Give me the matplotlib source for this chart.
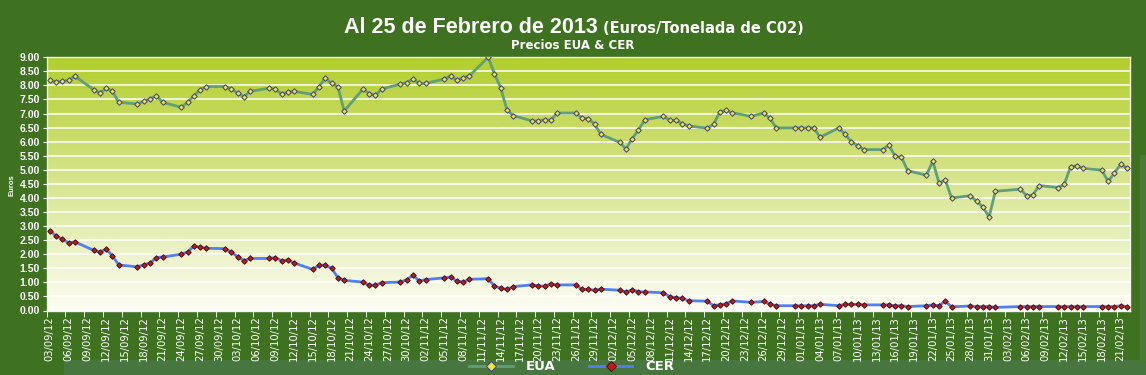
import numpy as np
import matplotlib
matplotlib.use("Agg")
import matplotlib.pyplot as plt
import matplotlib.dates as mdates
from matplotlib.colors import LinearSegmentedColormap
from matplotlib.patches import Rectangle

# trading days shown on the chart
dates = [
    "2012-09-03", "2012-09-04", "2012-09-05", "2012-09-06", "2012-09-07",
    "2012-09-10", "2012-09-11", "2012-09-12", "2012-09-13", "2012-09-14",
    "2012-09-17", "2012-09-18", "2012-09-19", "2012-09-20", "2012-09-21",
    "2012-09-24", "2012-09-25", "2012-09-26", "2012-09-27", "2012-09-28",
    "2012-10-01", "2012-10-02", "2012-10-03", "2012-10-04", "2012-10-05",
    "2012-10-08", "2012-10-09", "2012-10-10", "2012-10-11", "2012-10-12",
    "2012-10-15", "2012-10-16", "2012-10-17", "2012-10-18", "2012-10-19", "2012-10-20",
    "2012-10-23", "2012-10-24", "2012-10-25", "2012-10-26",
    "2012-10-29", "2012-10-30", "2012-10-31", "2012-11-01", "2012-11-02",
    "2012-11-05", "2012-11-06", "2012-11-07", "2012-11-08", "2012-11-09",
    "2012-11-12", "2012-11-13", "2012-11-14", "2012-11-15", "2012-11-16",
    "2012-11-19", "2012-11-20", "2012-11-21", "2012-11-22", "2012-11-23",
    "2012-11-26", "2012-11-27", "2012-11-28", "2012-11-29", "2012-11-30",
    "2012-12-03", "2012-12-04", "2012-12-05", "2012-12-06", "2012-12-07",
    "2012-12-10", "2012-12-11", "2012-12-12", "2012-12-13", "2012-12-14",
    "2012-12-17", "2012-12-18", "2012-12-19", "2012-12-20", "2012-12-21",
    "2012-12-24", "2012-12-26", "2012-12-27", "2012-12-28",
    "2012-12-31", "2013-01-01", "2013-01-02", "2013-01-03", "2013-01-04",
    "2013-01-07", "2013-01-08", "2013-01-09", "2013-01-10", "2013-01-11",
    "2013-01-14", "2013-01-15", "2013-01-16", "2013-01-17", "2013-01-18",
    "2013-01-21", "2013-01-22", "2013-01-23", "2013-01-24", "2013-01-25",
    "2013-01-28", "2013-01-29", "2013-01-30", "2013-01-31", "2013-02-01",
    "2013-02-05", "2013-02-06", "2013-02-07", "2013-02-08",
    "2013-02-11", "2013-02-12", "2013-02-13", "2013-02-14", "2013-02-15",
    "2013-02-18", "2013-02-19", "2013-02-20", "2013-02-21", "2013-02-22",
]

eua = [
    8.19, 8.12, 8.15, 8.18, 8.33,
    7.85, 7.73, 7.90, 7.79, 7.40,
    7.34, 7.44, 7.52, 7.63, 7.40,
    7.22, 7.40, 7.63, 7.85, 7.96,
    7.96, 7.87, 7.73, 7.60, 7.79,
    7.90, 7.87, 7.70, 7.76, 7.79,
    7.68, 7.96, 8.27, 8.07, 7.96, 7.09,
    7.87, 7.71, 7.65, 7.87,
    8.05, 8.10, 8.23, 8.07, 8.07,
    8.23, 8.34, 8.18, 8.28, 8.34,
    9.00, 8.42, 7.91, 7.13, 6.93,
    6.74, 6.74, 6.78, 6.76, 7.02,
    7.02, 6.84, 6.82, 6.62, 6.26,
    5.98, 5.74, 6.11, 6.41, 6.78,
    6.90, 6.76, 6.76, 6.64, 6.56,
    6.48, 6.62, 7.06, 7.11, 7.03,
    6.90, 7.02, 6.83, 6.49,
    6.49, 6.49, 6.49, 6.49, 6.16,
    6.49, 6.26, 6.00, 5.86, 5.72,
    5.72, 5.87, 5.48, 5.45, 4.97,
    4.81, 5.31, 4.53, 4.64, 4.00,
    4.08, 3.88, 3.68, 3.32, 4.24,
    4.31, 4.08, 4.11, 4.44,
    4.37, 4.48, 5.11, 5.15, 5.05,
    4.99, 4.59, 4.88, 5.20, 5.06,
]

cer = [
    2.84, 2.65, 2.53, 2.41, 2.44,
    2.14, 2.07, 2.19, 1.94, 1.62,
    1.55, 1.63, 1.68, 1.88, 1.90,
    2.00, 2.08, 2.29, 2.25, 2.21,
    2.20, 2.07, 1.91, 1.77, 1.85,
    1.85, 1.88, 1.77, 1.80, 1.69,
    1.46, 1.61, 1.61, 1.50, 1.17, 1.07,
    1.01, 0.90, 0.90, 0.99,
    1.01, 1.10, 1.25, 1.05, 1.10,
    1.16, 1.19, 1.05, 1.01, 1.11,
    1.13, 0.87, 0.79, 0.75, 0.85,
    0.91, 0.87, 0.87, 0.94, 0.91,
    0.91, 0.75, 0.75, 0.72, 0.76,
    0.72, 0.66, 0.73, 0.67, 0.66,
    0.63, 0.49, 0.46, 0.43, 0.35,
    0.33, 0.17, 0.21, 0.24, 0.34,
    0.29, 0.32, 0.23, 0.17,
    0.17, 0.17, 0.17, 0.17, 0.22,
    0.17, 0.22, 0.22, 0.22, 0.20,
    0.20, 0.20, 0.17, 0.17, 0.14,
    0.17, 0.20, 0.17, 0.33, 0.13,
    0.16, 0.14, 0.14, 0.14, 0.11,
    0.14, 0.14, 0.14, 0.14,
    0.14, 0.14, 0.14, 0.14, 0.14,
    0.14, 0.14, 0.14, 0.17, 0.14,
]

W, H = 1146, 375
BG = "#3e7220"
NARROW = ["Liberation Sans Narrow", "DejaVu Sans"]
WHITE = "white"

fig = plt.figure(figsize=(W / 100, H / 100), dpi=100, facecolor=BG)
# lighter band at the bottom / right like the screenshot
fig.patches.append(Rectangle((64 / W, 0), 1, 15 / H, transform=fig.transFigure,
                             color="#47763e", zorder=-1))
fig.patches.append(Rectangle((1140 / W, 15 / H), 1, (375 - 155 - 15) / H,
                             transform=fig.transFigure, color="#4a7a34", zorder=-1))

ax = fig.add_axes([46.7 / W, 1 - 310.5 / H, (1130 - 46.7) / W, (310.5 - 57.3) / H])

# gradient background of the plot area
grad = LinearSegmentedColormap.from_list("bg", ["#fdfdf5", "#b2ce2a"])
ax.imshow(np.linspace(0, 1, 256).reshape(-1, 1)[::-1], cmap=grad, aspect="auto",
          extent=[0, 1, 0, 1], transform=ax.transAxes, zorder=0)

x = mdates.date2num(np.array(dates, dtype="datetime64[D]")) + 0.5

ax.plot(x, eua, color="#5f9f7a", lw=2, marker="D", ms=2.8, mfc="#f2e43a",
        mec="#3c3c80", mew=0.7, label="EUA", zorder=3)
ax.plot(x, cer, color="#4f7ff5", lw=2, marker="D", ms=2.8, mfc="#c81818",
        mec="#4a1010", mew=0.7, label="CER", zorder=3)

x0 = mdates.date2num(np.datetime64("2012-09-03"))
x1 = mdates.date2num(np.datetime64("2013-02-23"))
ax.set_xlim(x0, x1)
ax.set_ylim(0, 9)

# y axis
yt = np.arange(0, 9.01, 0.5)
ax.set_yticks(yt)
ax.set_yticklabels([f"{v:.2f}" for v in yt], fontsize=7.5, fontweight="bold",
                   color=WHITE, family="Liberation Sans")
ax.yaxis.grid(True, color="white", lw=1.1)
ax.tick_params(axis="y", length=3, color=WHITE, pad=2)

# x axis: tick marks at day boundaries, labels centred on the day
tick_days = np.arange(np.datetime64("2012-09-03"), np.datetime64("2013-02-23"), 3)
tpos = mdates.date2num(tick_days)
ax.set_xticks(tpos + 0.5)
ax.set_xticklabels([d.item().strftime("%d/%m/%y") for d in tick_days],
                   rotation=90, fontsize=7.2, color=WHITE, family=NARROW)
ax.set_xticks(tpos, minor=True)
ax.tick_params(axis="x", which="major", length=0, pad=4)
ax.tick_params(axis="x", which="minor", length=4, color=WHITE)

for s in ax.spines.values():
    s.set_color("#f4f7e8")
    s.set_linewidth(1)
ax.set_axisbelow(True)

fig.text(12 / W, 1 - 185 / H, "Euros", rotation=90, fontsize=5.5, fontweight="bold",
         color=WHITE, ha="center", va="center", family="Liberation Sans")

# titles
fig.text(598 / W, 1 - 33 / H, "Al 25 de Febrero de 2013", ha="right", va="baseline",
         fontsize=15.5, fontweight="bold", color=WHITE, family="Liberation Sans")
fig.text(603 / W, 1 - 33 / H, "(Euros/Tonelada de C02)", ha="left", va="baseline",
         fontsize=10.5, fontweight="bold", color=WHITE, family=NARROW)
fig.text(573 / W, 1 - 49 / H, "Precios EUA & CER", ha="center", va="baseline",
         fontsize=8.5, fontweight="bold", color=WHITE, family=NARROW)

fig.legend(loc="center", bbox_to_anchor=(572 / W, 1 - 367 / H), ncol=2, frameon=False,
           handlelength=3.3, columnspacing=2.5, markerscale=1.8, handletextpad=1.0,
           borderpad=0.1, prop=dict(family=NARROW, weight="bold", size=9.5),
           labelcolor=WHITE)

fig.savefig("out.png", dpi=100, facecolor=BG)
